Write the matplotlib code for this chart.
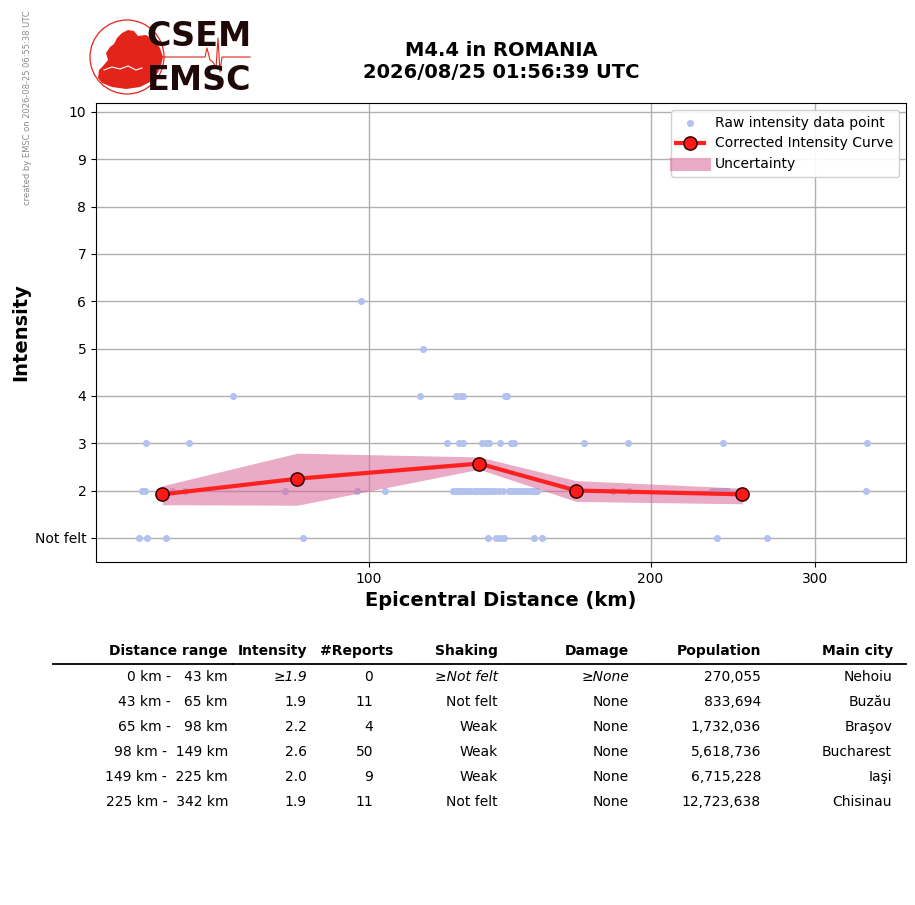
import matplotlib
matplotlib.use("Agg")
import matplotlib.pyplot as plt
import numpy as np
from matplotlib.patches import Circle, Polygon
from matplotlib.lines import Line2D
from matplotlib.ticker import FixedLocator, NullLocator, FixedFormatter

# ---------------- data ----------------
dist_i6 = [98.0]
dist_i5 = [114.2]
dist_i4 = [71.5, 113.4, 123.9, 125.1, 126.0, 139.8, 140.5]
dist_i3 = [57.7, 64.2, 121.2, 124.8, 126.0, 132.0, 133.4, 134.4, 138.1, 141.9,
           142.9, 169.8, 189.2, 239.1, 341.0]
dist_i2 = [57.2, 57.6, 60.1, 61.6, 63.5, 81.3, 97.1, 104.0,
           123.0, 123.9, 124.2, 124.8, 125.7, 126.6, 127.6, 128.2, 129.5, 130.4,
           131.4, 132.4, 133.0, 133.4, 134.4, 135.4, 136.4, 137.7, 139.1, 141.1,
           141.5, 142.2, 143.3, 144.3, 145.4, 146.5, 147.6, 148.6, 149.7, 150.5,
           151.2, 182.4, 189.7, 232.7, 235.0, 237.3, 239.7, 241.5, 250.6, 340.1]
dist_i1 = [56.7, 57.9, 60.6, 85.0, 134.0, 136.7, 138.1, 139.4, 150.1, 153.1,
           235.6, 266.5]
raw_groups = [(6, dist_i6), (5, dist_i5), (4, dist_i4), (3, dist_i3),
              (2, dist_i2), (1, dist_i1)]

curve_dist = [60.1, 83.8, 131.1, 166.5, 250.6]
curve_int = [1.92, 2.25, 2.57, 2.0, 1.92]
curve_low = [1.70, 1.69, 2.45, 1.77, 1.72]
curve_high = [2.10, 2.79, 2.71, 2.21, 2.05]

ytick_vals = [1, 2, 3, 4, 5, 6, 7, 8, 9, 10]
ytick_labels = ["Not felt", "2", "3", "4", "5", "6", "7", "8", "9", "10"]
xtick_vals = [100, 200, 300]

table_header = ["Distance range", "Intensity", "#Reports", "Shaking",
                "Damage", "Population", "Main city"]
range_lo = [0, 43, 65, 98, 149, 225]
range_hi = [43, 65, 98, 149, 225, 342]
tab_intensity = ["≥1.9", "1.9", "2.2", "2.6", "2.0", "1.9"]
tab_reports = ["0", "11", "4", "50", "9", "11"]
tab_shaking = ["≥Not felt", "Not felt", "Weak", "Weak", "Weak", "Not felt"]
tab_damage = ["≥None", "None", "None", "None", "None", "None"]
tab_population = [270055, 833694, 1732036, 5618736, 6715228, 12723638]
tab_city = ["Nehoiu", "Buzău", "Braşov", "Bucharest", "Iaşi", "Chisinau"]

raw_dist = []
raw_int = []
for inten, dl in raw_groups:
    raw_dist += dl
    raw_int += [inten] * len(dl)

# ---------------- figure ----------------
W, H = 915, 905
fig = plt.figure(figsize=(W / 100, H / 100), dpi=100)

def fx(px):
    return px / W

def fy(py):
    return 1 - py / H

ax = fig.add_axes([fx(96), fy(562), fx(906) - fx(96), fy(103) - fy(562)])
ax.set_xscale("log")
ax.set_xlim(51.05, 375.2)
ax.set_ylim(0.49, 10.19)

BAND_COLOR = "#d76696"
BAND_ALPHA = 0.55
sc = ax.scatter(raw_dist, raw_int, s=26, color="#b3c1ee", zorder=2,
                linewidths=0)
ax.fill_between(curve_dist, curve_low, curve_high, color=BAND_COLOR,
                alpha=BAND_ALPHA, linewidth=0, zorder=3)
ln, = ax.plot(curve_dist, curve_int, color="#ff2020", lw=3, marker="o", ms=9.5,
              mfc="#ff1a1a", mec="#330000", mew=1.1, zorder=4)

ax.xaxis.set_major_locator(FixedLocator(xtick_vals))
ax.xaxis.set_major_formatter(FixedFormatter([str(v) for v in xtick_vals]))
ax.xaxis.set_minor_locator(NullLocator())
ax.set_yticks(ytick_vals)
ax.set_yticklabels(ytick_labels)
ax.tick_params(labelsize=10)
ax.grid(True, color="#b0b0b0", lw=1.0, zorder=0)
ax.set_axisbelow(True)
ax.set_xlabel("Epicentral Distance (km)", fontsize=14, fontweight="bold", labelpad=4)
ax.set_ylabel("Intensity", fontsize=14, fontweight="bold", labelpad=3.5)

band_proxy = Line2D([], [], color=BAND_COLOR, alpha=BAND_ALPHA, lw=9.5,
                    solid_capstyle="projecting")
ax.legend([sc, ln, band_proxy],
          ["Raw intensity data point", "Corrected Intensity Curve", "Uncertainty"],
          loc="upper right", fontsize=10, framealpha=0.9)

# ---------------- title ----------------
fig.text(fx(501), fy(50), "M4.4 in ROMANIA", ha="center", va="center",
         fontsize=14, fontweight="bold")
fig.text(fx(501), fy(72), "2026/08/25 01:56:39 UTC", ha="center", va="center",
         fontsize=14, fontweight="bold")

fig.text(fx(28), fy(10), "created by EMSC on 2026-08-25 06:55:38 UTC",
         rotation=90, ha="center", va="top", fontsize=6, color="#8a8a8a")

# ---------------- logo ----------------
lax = fig.add_axes([fx(85), fy(100), fx(255) - fx(85), fy(15) - fy(100)])
lax.set_xlim(85, 255)
lax.set_ylim(100, 15)
lax.axis("off")
lax.add_patch(Circle((127, 57), 37, fill=False, ec="#e3241b", lw=0.9))
land = [(98, 78), (99, 70), (103, 66), (108, 60), (106, 53), (110, 47),
        (114, 44), (117, 38), (122, 33), (128, 30), (134, 31), (138, 36),
        (146, 35), (154, 40), (160, 48), (163, 57), (161, 66), (157, 74),
        (150, 82), (140, 87), (126, 89), (112, 87), (102, 83)]
lax.add_patch(Polygon(land, closed=True, fc="#e3241b", ec="none"))
sea_x = [104, 112, 120, 128, 136, 142]
sea_y = [70, 67, 69, 66, 70, 68]
lax.plot(sea_x, sea_y, color="white", lw=0.8)
seis_x = [160, 205, 207, 210, 213, 216, 218, 220, 222, 224, 250]
seis_y = [57, 57, 48, 60, 62, 68, 38, 72, 57, 57, 57]
lax.plot(seis_x, seis_y, color="#e3241b", lw=0.8)
lax.text(199, 37, "CSEM", ha="center", va="center", fontsize=24,
         fontweight="bold", color="#1e0808")
lax.text(199, 81, "EMSC", ha="center", va="center", fontsize=24,
         fontweight="bold", color="#1e0808")

# ---------------- table ----------------
col_right_hdr = [228, 307, 393, 498, 629, 761, 893]
col_right_val = [228, 307, 373, 498, 629, 761, 892]
for txt, xr in zip(table_header, col_right_hdr):
    fig.text(fx(xr), fy(651), txt, ha="right", va="center", fontsize=10,
             fontweight="bold")
bounds = [52, 233, 313, 400, 510, 640, 773, 906]
for a, b in zip(bounds[:-1], bounds[1:]):
    fig.add_artist(Line2D([fx(a + 0.5), fx(b - 0.5)], [fy(664), fy(664)],
                          color="black", lw=1.3))
for i in range(len(range_lo)):
    y = fy(677 + 25 * i)
    style = "italic" if i == 0 else "normal"
    row = [f"{range_lo[i]} km - {range_hi[i]:>4} km", tab_intensity[i],
           tab_reports[i], tab_shaking[i], tab_damage[i],
           f"{tab_population[i]:,}", tab_city[i]]
    for j, (txt, xr) in enumerate(zip(row, col_right_val)):
        st = style if j in (1, 3, 4) else "normal"
        fig.text(fx(xr), y, txt, ha="right", va="center", fontsize=10,
                 fontstyle=st)

fig.savefig("out.png", dpi=100)
